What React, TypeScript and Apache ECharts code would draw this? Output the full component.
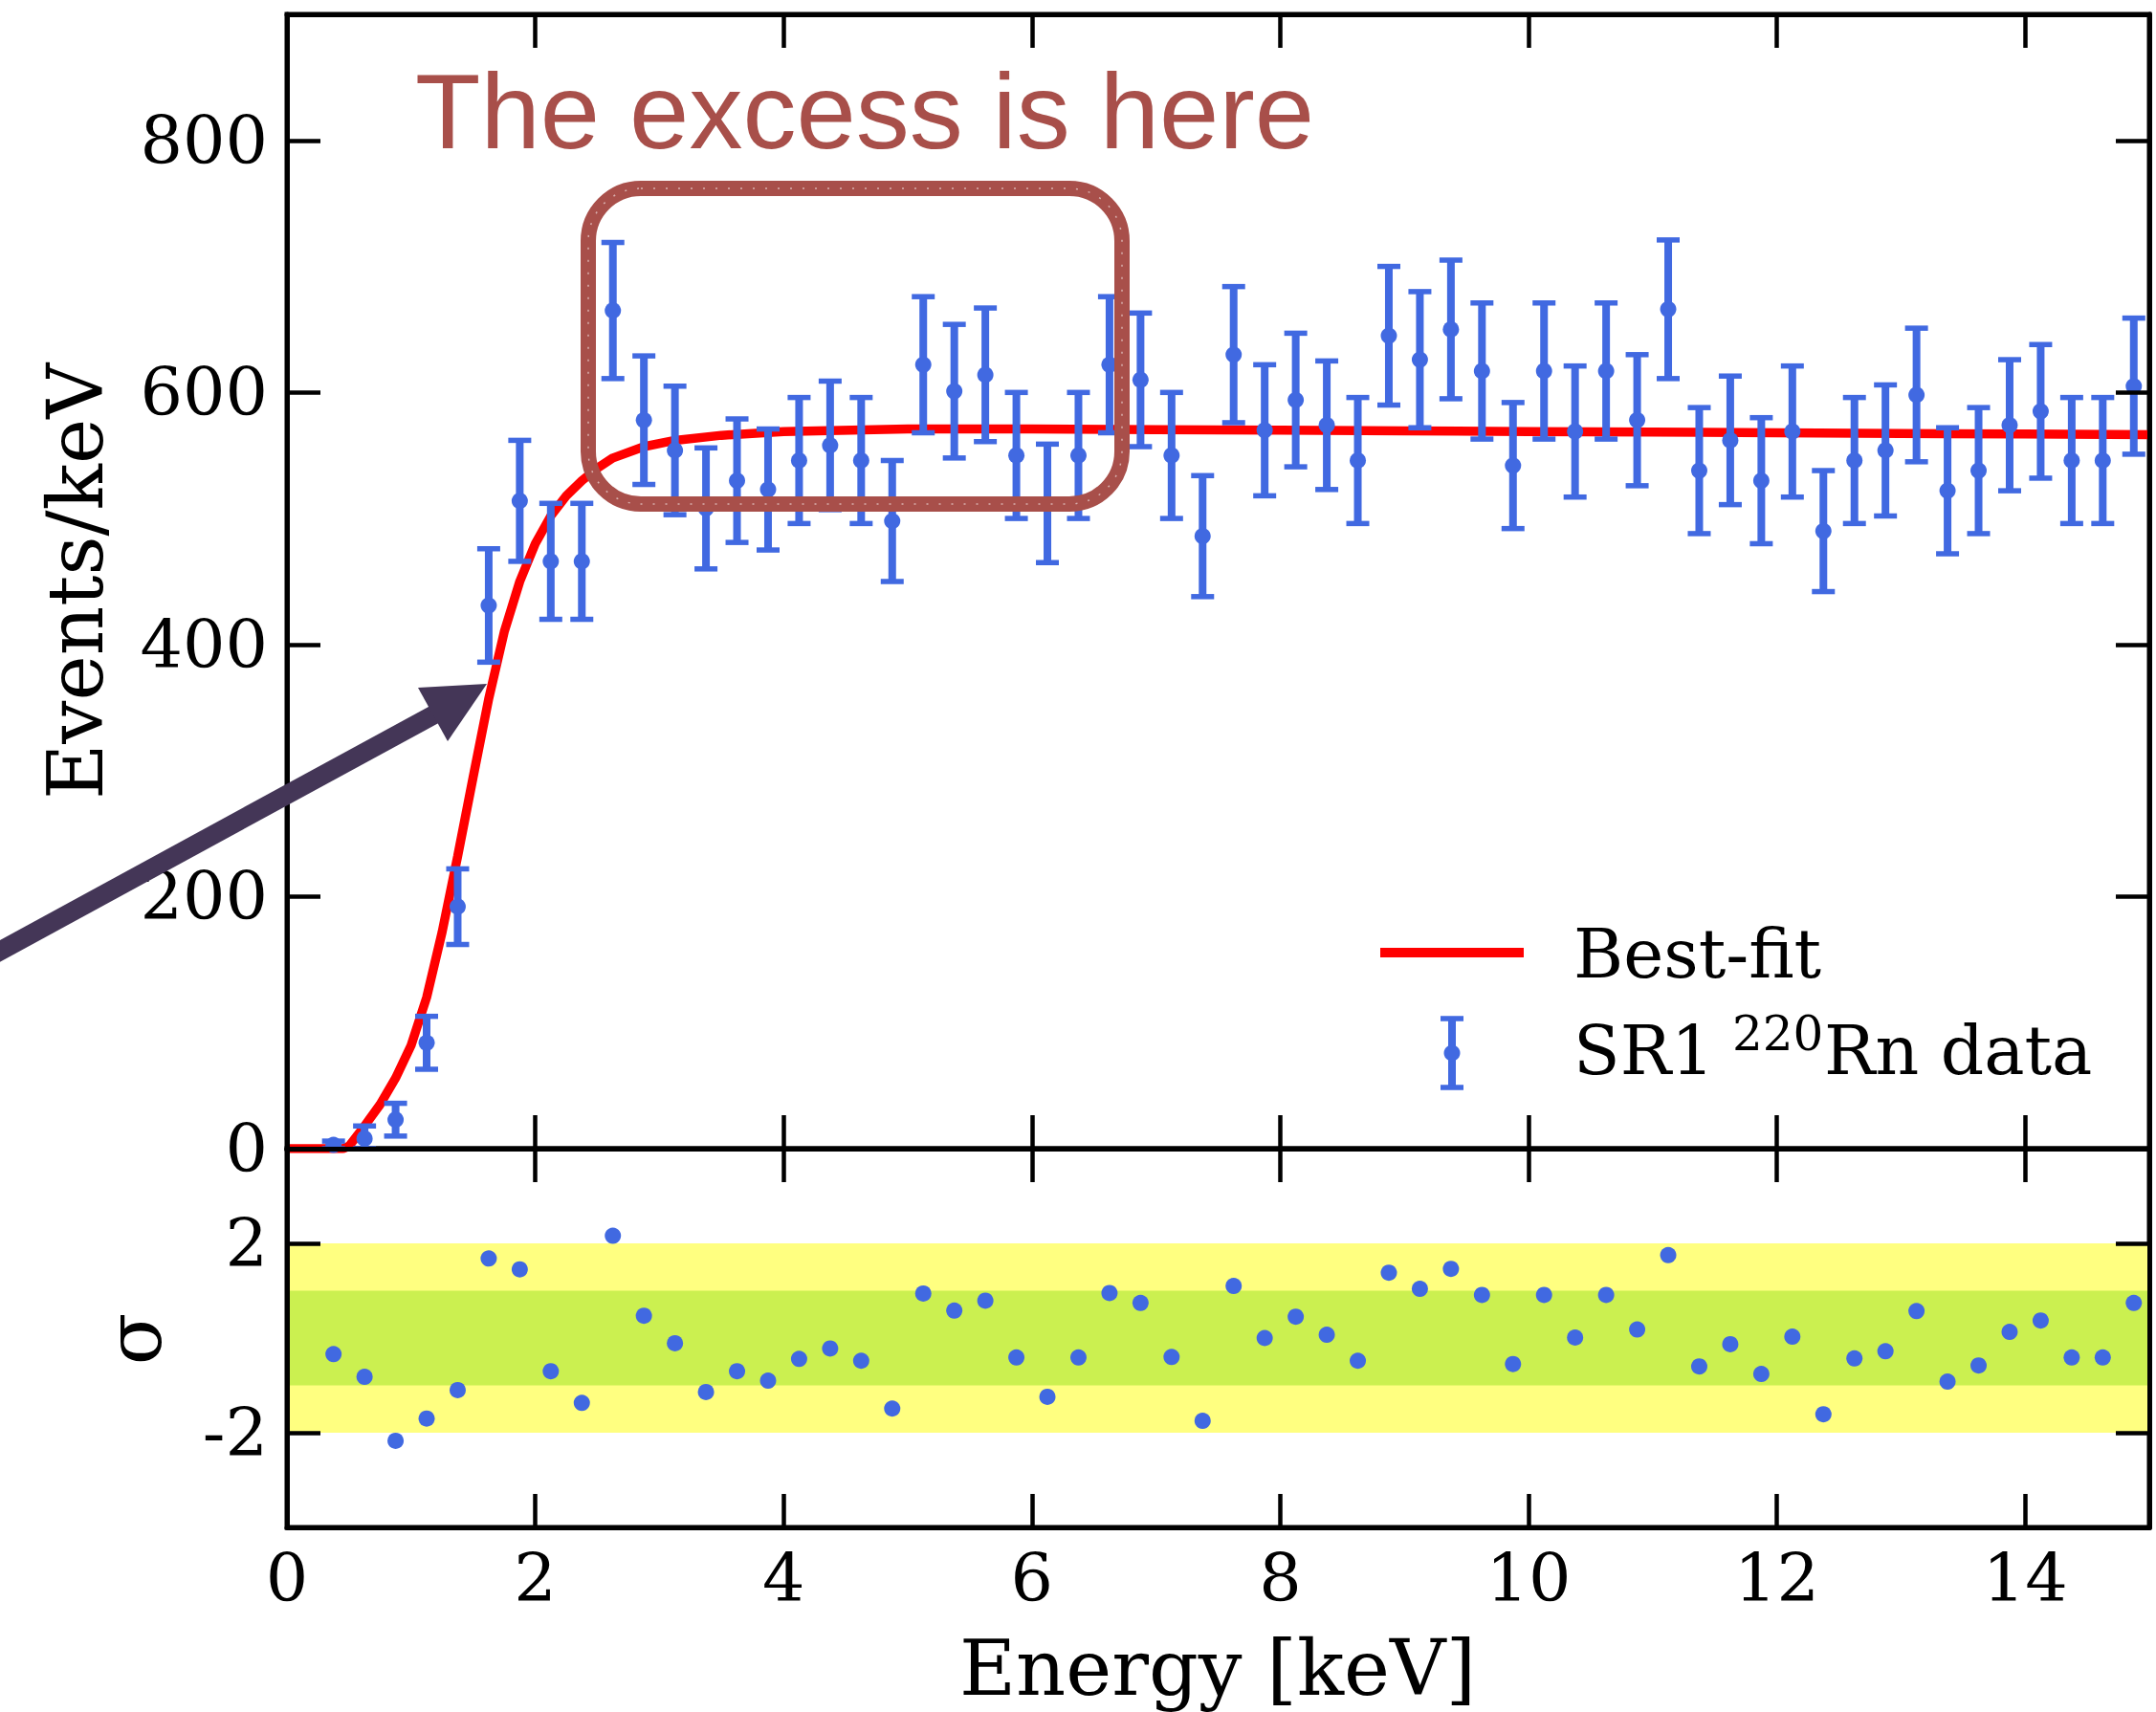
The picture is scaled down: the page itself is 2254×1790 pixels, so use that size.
import React, { useEffect, useRef } from "react";
import * as echarts from "echarts";

// ---- data ----
const energy = [
  0.375, 0.625, 0.875, 1.125, 1.375, 1.625, 1.875, 2.125, 2.375, 2.625,
  2.875, 3.125, 3.375, 3.625, 3.875, 4.125, 4.375, 4.625, 4.875, 5.125,
  5.375, 5.625, 5.875, 6.125, 6.375, 6.625, 6.875, 7.125, 7.375, 7.625,
  7.875, 8.125, 8.375, 8.625, 8.875, 9.125, 9.375, 9.625, 9.875, 10.125,
  10.375, 10.625, 10.875, 11.125, 11.375, 11.625, 11.875, 12.125, 12.375, 12.625,
  12.875, 13.125, 13.375, 13.625, 13.875, 14.125, 14.375, 14.625, 14.875,
];
const rate = [
  3, 8, 23, 84, 192, 431, 514, 466, 466, 665,
  578, 554, 508, 530, 523, 546, 558, 546, 498, 622,
  601, 614, 550, 512, 550, 622, 610, 550, 486, 630,
  570, 594, 574, 546, 645, 626, 650, 617, 542, 617,
  569, 617, 578, 666, 538, 562, 530, 569, 490, 546,
  554, 598, 522, 538, 574, 585, 546, 546, 605,
];
const rateErr = [
  3, 10, 13, 21, 30, 45, 48, 46, 46, 54,
  51, 51, 48, 49, 48, 50, 51, 50, 48, 54,
  53, 53, 50, 47, 50, 54, 53, 50, 48, 54,
  52, 53, 51, 50, 55, 54, 55, 54, 50, 54,
  52, 54, 52, 55, 50, 51, 50, 52, 48, 50,
  52, 53, 50, 50, 52, 53, 50, 50, 54,
];
const sigma = [
  -0.34, -0.82, -2.17, -1.7, -1.1, 1.68, 1.45, -0.7, -1.37, 2.16,
  0.47, -0.11, -1.14, -0.7, -0.9, -0.44, -0.22, -0.48, -1.49, 0.94,
  0.58, 0.79, -0.41, -1.24, -0.41, 0.95, 0.74, -0.4, -1.75, 1.1,
  0.0, 0.45, 0.07, -0.48, 1.38, 1.04, 1.46, 0.91, -0.55, 0.91,
  0.01, 0.91, 0.18, 1.75, -0.6, -0.13, -0.76, 0.03, -1.61, -0.43,
  -0.28, 0.57, -0.92, -0.58, 0.13, 0.37, -0.41, -0.41, 0.74,
];
const fitE = [
  0, 0.45, 0.5, 0.625, 0.75, 0.875, 1.0, 1.125, 1.25, 1.375,
  1.5, 1.625, 1.75, 1.875, 2.0, 2.125, 2.25, 2.375, 2.5, 2.625,
  2.875, 3.125, 3.5, 4, 5, 6, 7, 8, 9, 10, 11, 12, 13, 14, 15,
];
const fitV = [
  0, 0, 2, 18, 35, 56, 82, 120, 172, 232,
  295, 357, 410, 450, 480, 502, 518, 530, 540, 548,
  557, 562, 566, 569, 571, 571, 570.5, 570, 569.5, 569, 568.5, 568, 567.5, 567, 566.5,
];
const xTicks = [0, 2, 4, 6, 8, 10, 12, 14];
const yTicksMain = [0, 200, 400, 600, 800];
const yTicksResid = [-2, 2];
const band2 = [-2, 2];
const band1 = [-1, 1];

const BLUE = "#4169E1";
const SERIF = "DejaVu Serif";
const BROWN = "#A84F4A";
const ARROW = "#443657";

export default function App() {
  const ref = useRef<HTMLDivElement>(null);
  useEffect(() => {
    if (!ref.current) return;
    const chart = echarts.init(ref.current, undefined, { renderer: "svg" });

    const tickStyle = { lineStyle: { color: "#000", width: 4.5 } };
    const lineStyle = { show: true, onZero: false, lineStyle: { color: "#000", width: 5 } };
    const xBase = (grid: number, pos: string, labels: boolean) => ({
      type: "value",
      gridIndex: grid,
      position: pos,
      min: 0,
      max: 15,
      z: 10,
      axisLine: lineStyle,
      splitLine: { show: false },
      axisTick: { show: true, inside: true, length: 35, customValues: xTicks, ...tickStyle },
      axisLabel: {
        show: labels,
        customValues: xTicks,
        margin: 18,
        color: "#000",
        fontFamily: SERIF,
        fontSize: 70,
      },
    });
    const yBase = (grid: number, pos: string, labels: boolean, min: number, max: number, ticks: number[]) => ({
      type: "value",
      gridIndex: grid,
      position: pos,
      min,
      max,
      z: 10,
      axisLine: lineStyle,
      splitLine: { show: false },
      axisTick: { show: true, inside: true, length: 35, customValues: ticks, ...tickStyle },
      axisLabel: {
        show: labels,
        customValues: ticks,
        margin: 20,
        color: "#000",
        fontFamily: SERIF,
        fontSize: 70,
      },
    });

    const errData = energy.map((e, i) => [e, rate[i], rateErr[i]]);
    const fitData = fitE.map((e, i) => [e, fitV[i]]);
    const residData = energy.map((e, i) => [e, sigma[i]]);

    const legendBarX = 1518;
    const legendBarTop = 1065;
    const legendBarBot = 1137;

    chart.setOption({
      animation: false,
      backgroundColor: "#fff",
      textStyle: { fontFamily: SERIF },
      grid: [
        { left: 300, top: 15, width: 1947, height: 1186, show: true, borderColor: "#000", borderWidth: 5 },
        { left: 300, top: 1201, width: 1947, height: 396, show: true, borderColor: "#000", borderWidth: 5 },
      ],
      xAxis: [
        xBase(0, "bottom", false),
        xBase(0, "top", false),
        xBase(1, "bottom", true),
        xBase(1, "top", false),
      ],
      yAxis: [
        yBase(0, "left", true, 0, 900, yTicksMain),
        yBase(0, "right", false, 0, 900, yTicksMain),
        yBase(1, "left", true, -4, 4, yTicksResid),
        yBase(1, "right", false, -4, 4, yTicksResid),
      ],
      series: [
        {
          name: "Best-fit",
          type: "line",
          xAxisIndex: 0,
          yAxisIndex: 0,
          data: fitData,
          showSymbol: false,
          symbol: "none",
          lineStyle: { color: "#FF0000", width: 9.5 },
          z: 3,
        },
        {
          name: "SR1 220Rn data",
          type: "custom",
          xAxisIndex: 0,
          yAxisIndex: 0,
          data: errData,
          z: 4,
          renderItem: (params: any, api: any) => {
            const x = api.value(0);
            const y = api.value(1);
            const e = api.value(2);
            const c = api.coord([x, y]);
            const t = api.coord([x, y + e]);
            const b = api.coord([x, Math.max(0, y - e)]);
            const cap = 12;
            return {
              type: "group",
              children: [
                { type: "line", shape: { x1: c[0], y1: t[1], x2: c[0], y2: b[1] }, style: { stroke: BLUE, lineWidth: 8 } },
                { type: "line", shape: { x1: c[0] - cap, y1: t[1], x2: c[0] + cap, y2: t[1] }, style: { stroke: BLUE, lineWidth: 5.5 } },
                { type: "line", shape: { x1: c[0] - cap, y1: b[1], x2: c[0] + cap, y2: b[1] }, style: { stroke: BLUE, lineWidth: 5.5 } },
                { type: "circle", shape: { cx: c[0], cy: c[1], r: 8.5 }, style: { fill: BLUE } },
              ],
            };
          },
        },
        {
          name: "residual",
          type: "scatter",
          xAxisIndex: 2,
          yAxisIndex: 2,
          data: residData,
          symbol: "circle",
          symbolSize: 17,
          itemStyle: { color: BLUE, opacity: 1 },
          z: 4,
          markArea: {
            silent: true,
            data: [
              [{ yAxis: band2[0], itemStyle: { color: "#FFFF80", opacity: 1 } }, { yAxis: band2[1] }],
              [{ yAxis: band1[0], itemStyle: { color: "#CBF050", opacity: 1 } }, { yAxis: band1[1] }],
            ],
          },
        },
      ],
      graphic: [
        // axis titles
        {
          type: "text",
          x: 79,
          y: 608,
          rotation: Math.PI / 2,
          z: 50,
          style: { text: "Events/keV", fill: "#000", font: `80px "${SERIF}"`, align: "center", verticalAlign: "middle", textAlign: "center", textVerticalAlign: "middle" },
        },
        {
          type: "text",
          x: 140,
          y: 1400,
          rotation: Math.PI / 2,
          z: 50,
          style: { text: "σ", fill: "#000", font: `80px "${SERIF}"`, align: "center", verticalAlign: "middle", textAlign: "center", textVerticalAlign: "middle" },
        },
        {
          type: "text",
          x: 1273,
          y: 1744,
          z: 50,
          style: { text: "Energy [keV]", fill: "#000", font: `81px "${SERIF}"`, align: "center", verticalAlign: "middle", textAlign: "center", textVerticalAlign: "middle" },
        },
        // annotation
        {
          type: "text",
          x: 434,
          y: 116,
          z: 50,
          style: { text: "The excess is here", fill: BROWN, font: `112px "Liberation Sans"`, align: "left", verticalAlign: "middle", textAlign: "left", textVerticalAlign: "middle" },
        },
        {
          type: "rect",
          z: 60,
          shape: { x: 615, y: 197, width: 558, height: 330, r: 55 },
          style: { fill: "none", stroke: BROWN, lineWidth: 16 },
        },
        {
          type: "rect",
          z: 61,
          shape: { x: 615, y: 197, width: 558, height: 330, r: 55 },
          style: { fill: "none", stroke: "#ffffff", lineWidth: 1.5, lineDash: [2, 11], opacity: 0.55 },
        },
        // arrow
        {
          type: "line",
          z: 70,
          shape: { x1: -5, y1: 997, x2: 456, y2: 746 },
          style: { stroke: ARROW, lineWidth: 20 },
        },
        {
          type: "polygon",
          z: 70,
          shape: { points: [[509, 715], [437, 719], [468, 775]] },
          style: { fill: ARROW },
        },
        // legend
        {
          type: "line",
          z: 50,
          shape: { x1: 1443, y1: 996, x2: 1593, y2: 996 },
          style: { stroke: "#FF0000", lineWidth: 10 },
        },
        {
          type: "text",
          x: 1645,
          y: 997,
          z: 50,
          style: { text: "Best-fit", fill: "#000", font: `71px "${SERIF}"`, align: "left", verticalAlign: "middle", textAlign: "left", textVerticalAlign: "middle" },
        },
        {
          type: "line",
          z: 50,
          shape: { x1: legendBarX, y1: legendBarTop, x2: legendBarX, y2: legendBarBot },
          style: { stroke: BLUE, lineWidth: 8 },
        },
        {
          type: "line",
          z: 50,
          shape: { x1: legendBarX - 12, y1: legendBarTop, x2: legendBarX + 12, y2: legendBarTop },
          style: { stroke: BLUE, lineWidth: 5.5 },
        },
        {
          type: "line",
          z: 50,
          shape: { x1: legendBarX - 12, y1: legendBarBot, x2: legendBarX + 12, y2: legendBarBot },
          style: { stroke: BLUE, lineWidth: 5.5 },
        },
        {
          type: "circle",
          z: 50,
          shape: { cx: legendBarX, cy: 1101, r: 8.5 },
          style: { fill: BLUE },
        },
        {
          type: "text",
          x: 1645,
          y: 1098,
          z: 50,
          style: { text: "SR1", fill: "#000", font: `71px "${SERIF}"`, align: "left", verticalAlign: "middle", textAlign: "left", textVerticalAlign: "middle" },
        },
        {
          type: "text",
          x: 1811,
          y: 1081,
          z: 50,
          style: { text: "220", fill: "#000", font: `50px "${SERIF}"`, align: "left", verticalAlign: "middle", textAlign: "left", textVerticalAlign: "middle" },
        },
        {
          type: "text",
          x: 1907,
          y: 1098,
          z: 50,
          style: { text: "Rn data", fill: "#000", font: `71px "${SERIF}"`, align: "left", verticalAlign: "middle", textAlign: "left", textVerticalAlign: "middle" },
        },
      ],
    });
    return () => chart.dispose();
  }, []);

  return (
    <div
      ref={ref}
      style={{ position: "absolute", left: 0, top: 0, width: 2254, height: 1790, background: "#fff" }}
    />
  );
}
